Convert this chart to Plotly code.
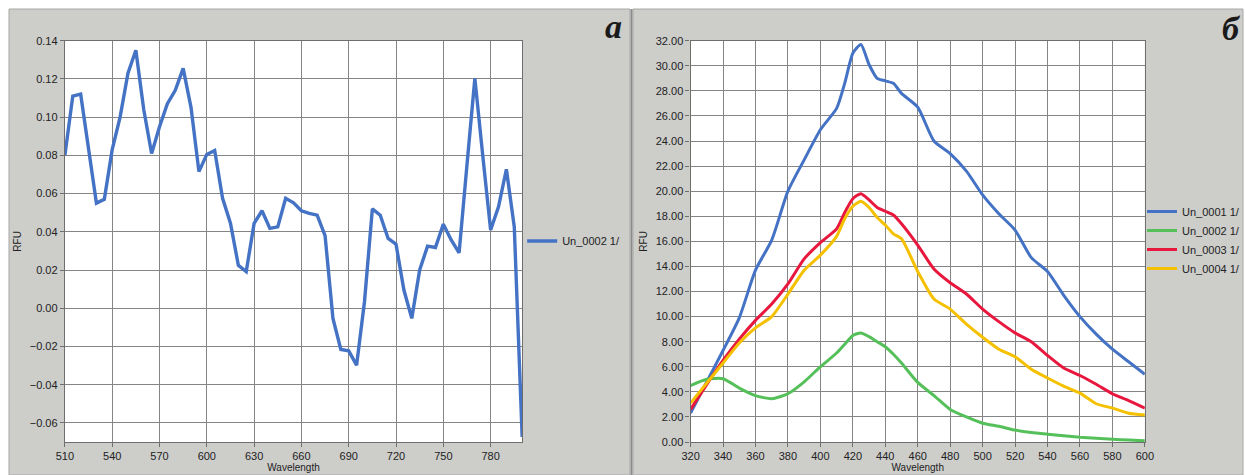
import plotly.graph_objects as go

# ---- Panel a data ----
wl_a = [510, 515, 520, 525, 530, 535, 540, 545, 550, 555, 560, 565, 570, 575, 580, 585,
        590, 595, 600, 605, 610, 615, 620, 625, 630, 635, 640, 645, 650, 655, 660, 665,
        670, 675, 680, 685, 690, 695, 700, 705, 710, 715, 720, 725, 730, 735, 740, 745,
        750, 755, 760, 765, 770, 775, 780, 785, 790, 795, 800]
rfu_a = [0.080, 0.111, 0.112, 0.083, 0.055, 0.057, 0.083, 0.100, 0.123, 0.135, 0.104, 0.081,
         0.095, 0.107, 0.114, 0.1255, 0.105, 0.0715, 0.0805, 0.0825, 0.0575, 0.0445, 0.0225,
         0.0192, 0.0444, 0.051, 0.0418, 0.0426, 0.0575, 0.0552, 0.051, 0.0496, 0.0487, 0.038,
         -0.0053, -0.0216, -0.0223, -0.0298, 0.0034, 0.052, 0.0487, 0.0365, 0.0335, 0.0095,
         -0.0053, 0.020, 0.0325, 0.0318, 0.044, 0.0357, 0.029, 0.075, 0.1203, 0.080, 0.0409,
         0.0531, 0.0727, 0.0426, -0.0673]

# ---- Panel б data ----
wl_b = [320, 330, 340, 350, 360, 370, 380, 390, 400, 410, 415, 420, 425, 430, 435, 440, 445,
        450, 460, 470, 480, 490, 500, 510, 520, 530, 540, 550, 560, 570, 580, 590, 600]
un_0001 = [2.3, 4.8, 7.3, 9.9, 13.7, 16.1, 20.0, 22.5, 24.9, 26.6, 28.6, 31.0, 31.7, 30.1, 29.0,
           28.8, 28.6, 27.8, 26.7, 24.0, 23.0, 21.6, 19.7, 18.2, 16.9, 14.7, 13.6, 11.7, 10.0,
           8.6, 7.4, 6.4, 5.4]
un_0002 = [4.5, 5.0, 5.05, 4.3, 3.7, 3.45, 3.85, 4.8, 6.0, 7.1, 7.8, 8.5, 8.7, 8.4, 8.0, 7.6,
           7.0, 6.3, 4.75, 3.7, 2.6, 2.0, 1.5, 1.25, 0.95, 0.75, 0.62, 0.5, 0.38, 0.3, 0.21,
           0.15, 0.1]
un_0003 = [2.6, 4.6, 6.5, 8.2, 9.7, 11.0, 12.6, 14.6, 15.9, 17.0, 18.3, 19.4, 19.8, 19.3, 18.7,
           18.4, 18.1, 17.4, 15.7, 13.8, 12.7, 11.8, 10.6, 9.6, 8.7, 8.0, 6.9, 5.9, 5.3, 4.6,
           3.85, 3.3, 2.7]
un_0004 = [3.1, 4.7, 6.3, 7.9, 9.1, 10.0, 11.8, 13.7, 14.9, 16.4, 17.8, 18.8, 19.2, 18.7, 17.9,
           17.3, 16.6, 16.2, 13.6, 11.4, 10.6, 9.4, 8.35, 7.4, 6.8, 5.8, 5.1, 4.45, 3.9, 3.05,
           2.7, 2.3, 2.15]

series_b = [("Un_0001 1/", un_0001, "#4472c4"),
            ("Un_0002 1/", un_0002, "#55c05a"),
            ("Un_0003 1/", un_0003, "#e8173e"),
            ("Un_0004 1/", un_0004, "#f5c000")]

W, H = 1245, 475
FONT = "Liberation Sans, Arial, sans-serif"
GRID = "#858585"
PANEL = "#cdcdca"

fig = go.Figure()

fig.add_trace(go.Scatter(x=wl_a, y=rfu_a, mode="lines", name="Un_0002 1/",
                         line=dict(color="#4472c4", width=3.4),
                         xaxis="x", yaxis="y", legend="legend"))

for name, vals, col in series_b:
    fig.add_trace(go.Scatter(x=wl_b, y=vals, mode="lines", name=name,
                             line=dict(color=col, width=3, shape="spline", smoothing=0.6),
                             xaxis="x2", yaxis="y2", legend="legend2"))

ydom = [(H - 442) / H, (H - 40.7) / H]

axis_common = dict(showgrid=True, gridcolor=GRID, gridwidth=1.2, showline=True,
                   linecolor="#6e6e6e", linewidth=1.2, mirror=True, ticks="outside",
                   ticklen=4, tickcolor="#6e6e6e", zeroline=False, automargin=False,
                   tickfont=dict(family=FONT, size=11, color="#222"))
title_font = dict(family=FONT, size=10, color="#222")

fig.update_layout(
    template="none",
    width=W, height=H,
    margin=dict(l=0, r=0, t=0, b=0, pad=0),
    paper_bgcolor="white",
    plot_bgcolor="white",
    showlegend=True,
    font=dict(family=FONT, size=11, color="#222"),
    xaxis=dict(domain=[65 / W, 523 / W], range=[510, 800], tick0=510, dtick=30,
               anchor="y", title=dict(text="Wavelength", font=title_font, standoff=2),
               **axis_common),
    yaxis=dict(domain=ydom, range=[-0.07, 0.14], tick0=0, dtick=0.02, tickformat=".2f",
               anchor="x", title=dict(text="RFU", font=title_font, standoff=6),
               **axis_common),
    xaxis2=dict(domain=[691.7 / W, 1146.7 / W], range=[320, 600], tick0=320, dtick=20,
                anchor="y2", title=dict(text="Wavelength", font=title_font, standoff=2),
                **axis_common),
    yaxis2=dict(domain=ydom, range=[0, 32], tick0=0, dtick=2, tickformat=".2f",
                anchor="x2", title=dict(text="RFU", font=title_font, standoff=6),
                **axis_common),
    legend=dict(x=523 / W, y=(H - 241) / H, xanchor="left", yanchor="middle",
                bgcolor="rgba(0,0,0,0)", borderwidth=0,
                font=dict(family=FONT, size=11, color="#222")),
    legend2=dict(x=1144 / W, y=(H - 240) / H, xanchor="left", yanchor="middle",
                 bgcolor="rgba(0,0,0,0)", borderwidth=0, tracegroupgap=0,
                 font=dict(family=FONT, size=11, color="#222")),
)

# gray panel backgrounds and separator
fig.add_shape(type="rect", xref="paper", yref="paper", x0=9 / W, x1=631 / W, y0=0,
              y1=(H - 9) / H, fillcolor=PANEL, line=dict(color="#a8a8a8", width=1),
              layer="below")
fig.add_shape(type="rect", xref="paper", yref="paper", x0=634 / W, x1=1.0, y0=0,
              y1=(H - 9) / H, fillcolor=PANEL, line=dict(color="#a8a8a8", width=1),
              layer="below")
fig.add_shape(type="line", xref="paper", yref="paper", x0=632.5 / W, x1=632.5 / W, y0=0,
              y1=(H - 9) / H, line=dict(color="#8c8c8c", width=2), layer="below")
# white plotting areas
for xr, yr in (("x domain", "y domain"), ("x2 domain", "y2 domain")):
    fig.add_shape(type="rect", xref=xr, yref=yr, x0=0, x1=1, y0=0, y1=1,
                  fillcolor="white", line=dict(width=0), layer="below")

# panel letters
letter_font = dict(family="Liberation Serif, Times New Roman, serif", size=34, color="#1a1a1a")
fig.add_annotation(text="<b><i>а</i></b>", xref="paper", yref="paper",
                   x=614 / W, y=(H - 26) / H, showarrow=False, xanchor="center",
                   yanchor="middle", font=letter_font)
fig.add_annotation(text="<b><i>б</i></b>", xref="paper", yref="paper",
                   x=1245 / W, y=(H - 28) / H, showarrow=False, xanchor="right",
                   yanchor="middle", font=letter_font)

fig.write_html("out.html",
               config={"displayModeBar": False},
               post_script="document.body.style.margin='0';"
                           "document.body.style.padding='0';"
                           "document.body.style.overflow='hidden';")
